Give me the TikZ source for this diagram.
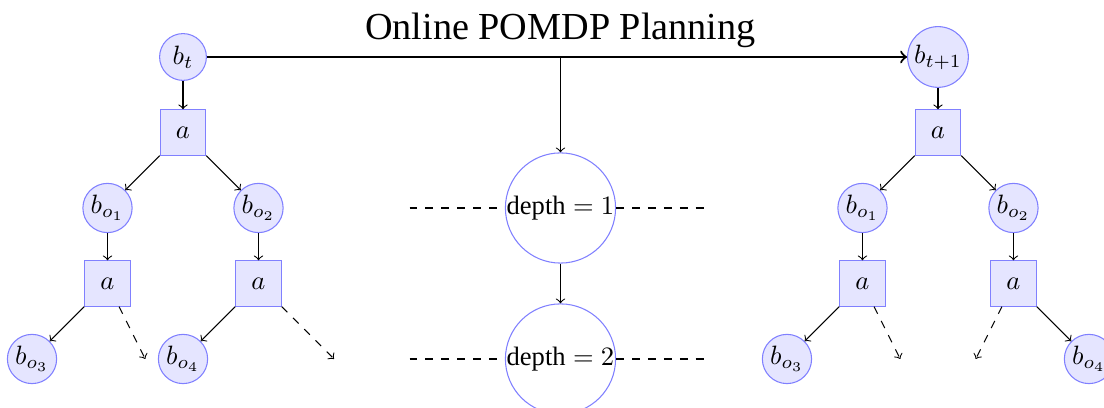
\documentclass[tikz,border=0pt]{standalone}
\usepackage{amssymb,amsfonts}
\usepackage{fontspec}
\setmainfont{Liberation Serif}
\usetikzlibrary{arrows}

\begin{document}
\begin{tikzpicture}[belief/.style={circle,draw=blue!50,fill=blue!10,minimum size=0.62cm,inner sep=1pt},
act/.style={rectangle,draw=blue!50,fill=blue!10,minimum size=0.6cm},
lvl/.style={circle,draw=blue!50,inner sep=0pt}]
\useasboundingbox (-2.424,0.755) rectangle (12.199,-4.649);

% tree at time t
\node[belief] (bt) at (0,0) {\(b_t\)};
\node[act] (a) at (0,-1) {\(a\)};
\node[belief] (bo1) at (-1,-2) {\(b_{o_1}\)};
\node[belief] (bo2) at (1,-2) {\(b_{o_2}\)};
\node[act] (a1) at (-1,-3) {\(a\)};
\node[act] (a2) at (1,-3) {\(a\)};
\node[belief] (bo3) at (-2,-4) {\(b_{o_3}\)};
\node[belief] (bo4) at (0,-4) {\(b_{o_4}\)};
\coordinate (e1) at (-0.5,-4);
\coordinate (e2) at (2,-4);

% tree at time t+1
\node[belief] (nbt) at (10,0) {\(b_{t+1}\)};
\node[act] (na) at (10,-1) {\(a\)};
\node[belief] (nbo1) at (9,-2) {\(b_{o_1}\)};
\node[belief] (nbo2) at (11,-2) {\(b_{o_2}\)};
\node[act] (na1) at (9,-3) {\(a\)};
\node[act] (na2) at (11,-3) {\(a\)};
\node[belief] (nbo3) at (8,-4) {\(b_{o_3}\)};
\node[belief] (nbo4) at (12,-4) {\(b_{o_4}\)};
\coordinate (ne1) at (9.5,-4);
\coordinate (ne2) at (10.5,-4);

% depth levels
\coordinate (top) at (5,0);
\node[above] (title) at (top) {\Large Online POMDP Planning};
\node[lvl] (dep1) at (5,-2) {depth\({}=1\)};
\node[lvl] (dep2) at (5,-4) {depth\({}=2\)};
\coordinate (l1) at (3,-2);
\coordinate (r1) at (7,-2);
\coordinate (l2) at (3,-4);
\coordinate (r2) at (7,-4);

\path[->]
(bt) edge (a)
(a) edge (bo1)
(a) edge (bo2)
(bo1) edge (a1)
(bo2) edge (a2)
(a1) edge (bo3)
(a1) edge[dashed] (e1)
(a2) edge (bo4)
(a2) edge[dashed] (e2)
(nbt) edge (na)
(na) edge (nbo1)
(na) edge (nbo2)
(nbo1) edge (na1)
(nbo2) edge (na2)
(na1) edge (nbo3)
(na1) edge[dashed] (ne1)
(na2) edge[dashed] (ne2)
(na2) edge (nbo4)
(top) edge (dep1)
(dep1) edge (dep2);

\draw[->,thick] (bt) -- (nbt);
\draw[dashed] (l1) -- (dep1) (dep1) -- (r1);
\draw[dashed] (l2) -- (dep2) (dep2) -- (r2);
\end{tikzpicture}
\end{document}
